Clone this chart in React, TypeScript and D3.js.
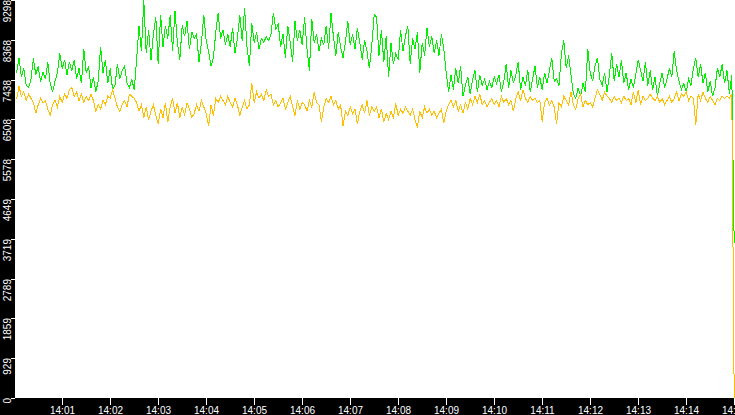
import { useEffect, useRef } from "react";
import * as d3 from "d3";

// chart size and frame
const WIDTH = 735;
const HEIGHT = 415;
const PLOT_LEFT = 15;
const PLOT_BOTTOM = 398;

const COLORS = {
  frame: "#000000",
  tick: "#ffffff",
  green: "#00f000",
  orange: "#ffbf00",
};

// y axis
const Y_MAX = 9298;
const yTickValues = [0, 929.8, 1859.6, 2789.4, 3719.2, 4649, 5578.8, 6508.6, 7438.4, 8368.2, 9298];
const yTickLabels = ["0", "929", "1859", "2789", "3719", "4649", "5578", "6508", "7438", "8368", "9298"];

// x axis (one tick per minute, 14:01 .. 14:15)
const xTickMinutes = [1, 2, 3, 4, 5, 6, 7, 8, 9, 10, 11, 12, 13, 14, 15];
const xTickLabels = ["14:01", "14:02", "14:03", "14:04", "14:05", "14:06", "14:07", "14:08", "14:09", "14:10", "14:11", "14:12", "14:13", "14:14", "14:15"];

// samples every 3 s starting at 14:00:02
const SAMPLE_START_S = 2;
const SAMPLE_STEP_S = 3;

// green series, 14:00 - 14:03:45
const greenA = [
  7600, 7950, 7500, 7700, 7300, 7250, 7450, 7930, 7550, 7750, 7380, 7620, 7450, 7850, 7350,
  7150, 7400, 7600, 8050, 7700, 7900, 7550, 7850, 7650, 7900, 7450, 7700, 7350, 8150, 7600,
  7750, 7250, 7500, 7150, 7400, 8200, 7600, 7900, 7350, 7700, 7200, 7300, 7800, 7450, 7650,
  7750, 7350, 7250, 7450, 7200, 7900, 8700, 8100, 9298, 8050, 8600, 7900, 8500, 8900, 7800,
  8950, 8200, 8700, 8400, 8950, 8100, 9050, 8300, 7900, 8700, 8450, 8800, 8150, 8550, 8400,
];
// green series, 14:03:45 - 14:07:30
const greenB = [
  8500, 7850, 8300, 8950, 8350, 8100, 7750, 7950, 8550, 9000, 8400, 8600, 8250, 8500, 8200,
  8650, 8050, 8400, 8950, 8350, 9100, 8200, 7750, 8750, 8300, 8550, 8150, 8400, 8300, 8450,
  8350, 8500, 9000, 8600, 8750, 8200, 8500, 7950, 8700, 8300, 7850, 8800, 8350, 8600, 8250,
  8900, 8150, 7650, 8850, 8300, 8500, 8100, 8400, 8250, 8700, 8150, 9000, 8450, 8000, 8550,
  8200, 7950, 8300, 8800, 8250, 8500, 8150, 8650, 8300, 7900, 8350, 8100, 7700, 8250, 8950,
];
// green series, 14:07:30 - 14:11:15
const greenC = [
  8900, 8000, 8600, 7850, 8450, 7500, 8300, 7800, 8050, 7900, 8600, 8100, 8450, 8700, 7800,
  8400, 8150, 8550, 7600, 8300, 8000, 8650, 8200, 8450, 8050, 8350, 8000, 8500, 8150, 7600,
  7150, 7550, 7200, 7700, 7350, 7750, 7050, 7300, 7500, 7100, 7450, 7650, 7150, 7550, 7300,
  7450, 7200, 7400, 7250, 7500, 7350, 7550, 7150, 7400, 7800, 7250, 7650, 7350, 7550, 7850,
  7200, 7500, 7300, 7650, 7150, 7450, 7750, 7250, 7500, 7200, 7600, 7350, 7650, 7950, 7400,
];
// green series, 14:11:15 - 14:15
const greenD = [
  7450, 7300, 8050, 8350, 7700, 8000, 7550, 7100, 7000, 7250, 7050, 7350, 7150, 8150, 7600,
  7400, 7750, 7950, 7450, 7300, 7600, 7150, 7550, 8050, 7400, 7800, 7500, 7900, 7350, 7600,
  7200, 7450, 7250, 7550, 7900, 7650, 7400, 7850, 7300, 7650, 7200, 7500, 7050, 7350, 7600,
  7250, 7450, 7700, 7500, 8100, 7650, 7400, 7200, 7350, 7150, 7450, 7300, 7700, 7950, 7500,
  7800, 7350, 7600, 7150, 7400, 7050, 7250, 7700, 7500, 7800, 7350, 7650, 7100, 7550, 3620,
];

// orange series
const orangeA = [
  6980, 7280, 7050, 7150, 6950, 7100, 7000, 6900, 6650, 6850, 7000, 6900, 6950, 6750, 6600,
  6850, 6950, 6800, 7050, 6900, 7100, 7000, 7200, 7250, 7050, 7150, 6950, 7100, 6900, 7050,
  6950, 7100, 6950, 6700, 6850, 6750, 6950, 6850, 7050, 7000, 7200, 7000, 6800, 6700, 6850,
  6950, 6800, 7100, 7050, 7000, 6900, 6700, 6850, 6550, 6800, 6500, 6700, 6850, 6600, 6400,
  6750, 6550, 6900, 6450, 6800, 7000, 6650, 6900, 6550, 6800, 6600, 6900, 6750, 6550, 6650,
];
const orangeB = [
  6850, 6700, 6950, 6800, 6650, 6350, 6850, 6600, 7000, 6900, 7050, 6950, 6850, 7050, 6900,
  6800, 7000, 6850, 6600, 6800, 6950, 6750, 6850, 7350, 6900, 7150, 7000, 7100, 6950, 7200,
  7050, 7100, 6850, 6950, 6800, 6900, 7000, 6750, 6900, 7050, 6800, 6600, 6950, 6750, 6900,
  6850, 6700, 6950, 6800, 7150, 6900, 6850, 6450, 6800, 7000, 6900, 7050, 6850, 6950, 6750,
  6850, 6350, 6700, 6600, 6800, 6650, 6750, 6400, 6700, 6850, 6650, 6950, 6600, 6800, 6700,
];
const orangeC = [
  6800, 6550, 6750, 6450, 6650, 6500, 6700, 6550, 6880, 6600, 6750, 6650, 6800, 6700, 6600,
  6750, 6500, 6320, 6700, 6550, 6800, 6650, 6750, 6600, 6700, 6550, 6650, 6750, 6420, 6700,
  6850, 6950, 6800, 6950, 6700, 6850, 6650, 6900, 6750, 7000, 6850, 7050, 6900, 7100, 6850,
  6950, 6800, 6900, 7000, 6850, 6950, 6800, 7050, 6900, 7000, 6850, 6950, 6700, 7000, 7150,
  6950, 7200, 7000, 6900, 7050, 6950, 7000, 6900, 6950, 6450, 6900, 7000, 6850, 6950, 6800,
];
const orangeD = [
  6400, 6900, 6800, 7050, 6950, 6850, 7150, 6850, 6750, 7000, 7100, 6800, 6950, 6850, 6900,
  6800, 7000, 7200, 7100, 6950, 7150, 7050, 7000, 6900, 7050, 6950, 7000, 6900, 7050, 6950,
  7000, 6850, 7150, 6900, 7200, 6850, 7050, 6950, 7000, 7100, 7000, 6950, 7050, 6900, 7000,
  6850, 6950, 7050, 6900, 7000, 7150, 6950, 7100, 7050, 7150, 6950, 7050, 7000, 6380, 7100,
  6950, 7150, 7000, 6900, 7050, 6950, 6850, 7000, 6950, 7050, 7000, 7050, 7000, 7100, 0,
];

const greenValues = [...greenA, ...greenB, ...greenC, ...greenD];
const orangeValues = [...orangeA, ...orangeB, ...orangeC, ...orangeD];

const FONT = "'Liberation Sans', Arial, sans-serif";
const START = new Date(2024, 0, 1, 14, 0, 0);

function Chart() {
  const svgRef = useRef<SVGSVGElement>(null);

  useEffect(() => {
    if (!svgRef.current) return;
    const svg = d3.select(svgRef.current);
    svg.selectAll("*").remove();

    const x = d3
      .scaleTime()
      .domain([START, d3.timeMinute.offset(START, 15)])
      .range([PLOT_LEFT, WIDTH]);
    const y = d3.scaleLinear().domain([0, Y_MAX]).range([PLOT_BOTTOM, 0]);

    const sampleTime = (i: number) =>
      d3.timeSecond.offset(START, SAMPLE_START_S + i * SAMPLE_STEP_S);

    // white plot background
    svg.append("rect").attr("width", WIDTH).attr("height", HEIGHT).attr("fill", "#fff");

    // series lines
    const line = d3
      .line<number>()
      .x((_, i) => x(sampleTime(i)))
      .y((d) => y(d));

    const plot = svg.append("g");
    [
      { values: greenValues, color: COLORS.green },
      { values: orangeValues, color: COLORS.orange },
    ].forEach((s) => {
      plot
        .append("path")
        .attr("d", line(s.values) ?? "")
        .attr("fill", "none")
        .attr("stroke", s.color)
        .attr("stroke-width", 1)
        .attr("shape-rendering", "crispEdges");
    });

    // black frame bands
    svg.append("rect")
      .attr("x", 0).attr("y", 0)
      .attr("width", PLOT_LEFT).attr("height", HEIGHT)
      .attr("fill", COLORS.frame);
    svg.append("rect")
      .attr("x", 0).attr("y", PLOT_BOTTOM)
      .attr("width", WIDTH).attr("height", HEIGHT - PLOT_BOTTOM)
      .attr("fill", COLORS.frame);

    // y ticks + rotated labels
    const yAxis = svg.append("g");
    yTickValues.forEach((v, i) => {
      const ty = Math.round(y(v)) + 0.5;
      yAxis.append("line")
        .attr("x1", 11).attr("x2", PLOT_LEFT)
        .attr("y1", ty).attr("y2", ty)
        .attr("stroke", COLORS.tick)
        .attr("shape-rendering", "crispEdges");
      yAxis.append("text")
        .attr("transform", `translate(11,${ty - 0.5}) rotate(-90)`)
        .attr("text-anchor", "end")
        .attr("font-size", 10)
        .attr("font-family", FONT)
        .attr("fill", COLORS.tick)
        .text(yTickLabels[i]);
    });

    // x ticks + labels
    const xAxis = svg.append("g");
    xTickMinutes.forEach((m, i) => {
      const tx = Math.round(x(d3.timeMinute.offset(START, m))) - 0.5;
      xAxis.append("line")
        .attr("x1", tx).attr("x2", tx)
        .attr("y1", PLOT_BOTTOM).attr("y2", PLOT_BOTTOM + 7)
        .attr("stroke", COLORS.tick)
        .attr("shape-rendering", "crispEdges");
      xAxis.append("text")
        .attr("x", tx)
        .attr("y", 413.5)
        .attr("text-anchor", "middle")
        .attr("font-size", 10)
        .attr("font-family", FONT)
        .attr("fill", COLORS.tick)
        .text(xTickLabels[i]);
    });
  }, []);

  return <svg ref={svgRef} width={WIDTH} height={HEIGHT} style={{ display: "block" }} />;
}

export default function App() {
  return (
    <div style={{ position: "fixed", left: 0, top: 0, width: WIDTH, height: HEIGHT, overflow: "hidden", background: "#fff" }}>
      <Chart />
    </div>
  );
}
